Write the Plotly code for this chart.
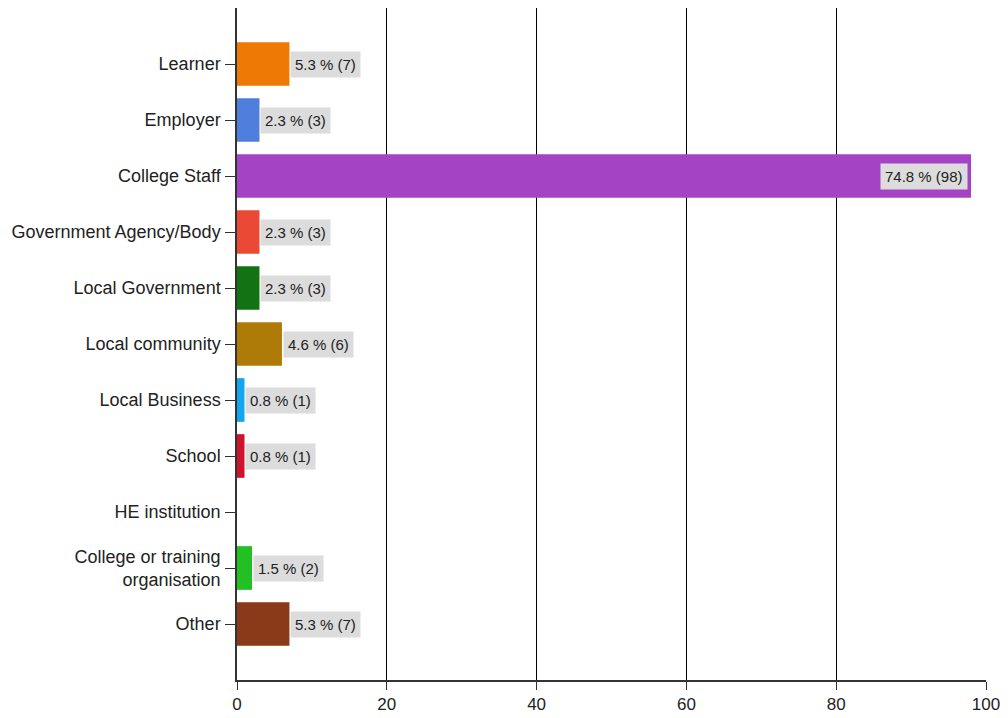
import plotly.graph_objects as go

categories = ["Learner", "Employer", "College Staff", "Government Agency/Body",
              "Local Government", "Local community", "Local Business", "School",
              "HE institution", "College or training<br>organisation", "Other"]
counts = [7, 3, 98, 3, 3, 6, 1, 1, 0, 2, 7]
percents = [5.3, 2.3, 74.8, 2.3, 2.3, 4.6, 0.8, 0.8, 0.0, 1.5, 5.3]
colors = ["#EE7A05", "#4F7FDC", "#A444C4", "#EA4A35", "#127312", "#AE7A08",
          "#12A6F0", "#D0122E", "#888888", "#22C022", "#8A3A18"]
x_ticks = [0, 20, 40, 60, 80, 100]

FONT = "Liberation Sans, Arial, sans-serif"

fig = go.Figure()
fig.add_trace(go.Bar(
    x=counts, y=categories, orientation="h",
    marker=dict(color=colors, line=dict(width=0)),
    width=0.78, hoverinfo="skip",
))

for c, n, p in zip(categories, counts, percents):
    if n == 0:
        continue
    label = f"{p:.1f} % ({n})"
    inside = n > 50
    fig.add_annotation(
        x=n, y=c, text=label, showarrow=False,
        xanchor="right" if inside else "left",
        xshift=-3 if inside else 1,
        yshift=0,
        bgcolor="#DCDCDC",
        font=dict(family=FONT, size=15, color="#222222"),
        borderpad=4,
    )

fig.update_layout(
    width=1000, height=710,
    margin=dict(l=229, r=22, t=0, b=38),
    plot_bgcolor="white", paper_bgcolor="white",
    showlegend=False,
    font=dict(family=FONT, size=18, color="#222222"),
)
fig.update_xaxes(
    range=[0, 100], tickvals=x_ticks, ticktext=[str(v) for v in x_ticks],
    showgrid=True, gridcolor="#000000", gridwidth=1,
    showline=True, linecolor="#333333", linewidth=1.5,
    ticks="outside", ticklen=8, tickcolor="#333333",
    zeroline=False, fixedrange=True,
    tickfont=dict(family=FONT, size=17, color="#222222"),
)
fig.update_yaxes(
    categoryorder="array", categoryarray=categories,
    range=[len(categories), -1],
    showgrid=False, showline=True, linecolor="#333333", linewidth=1.5,
    ticks="outside", ticklen=10, tickcolor="#333333",
    ticklabelstandoff=1,
    tickfont=dict(family=FONT, size=18, color="#222222"),
    fixedrange=True,
)

fig.write_html("out.html")
